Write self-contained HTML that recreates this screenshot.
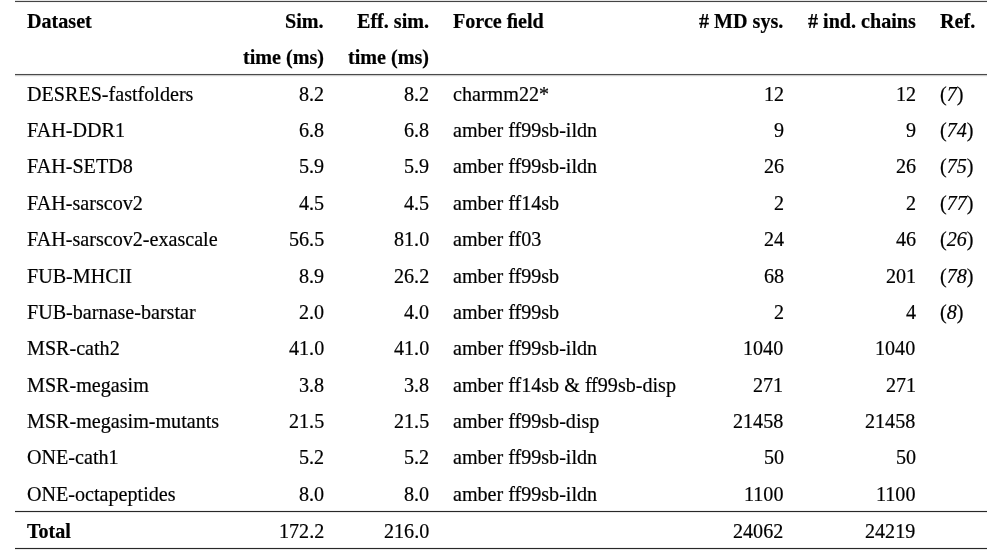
<!DOCTYPE html>
<html><head><meta charset="utf-8"><style>
html,body{margin:0;padding:0;background:#fff;width:991px;height:553px;overflow:hidden}
body{position:relative;font-family:"Liberation Serif",serif;font-size:20.12px;color:#000}
div{position:absolute;white-space:nowrap;line-height:22.14px;will-change:transform;-webkit-text-stroke:0.2px #000}
.b{font-weight:bold}
.r{position:absolute;left:15px;width:972px;height:1px}
</style></head><body>
<span class="r" style="top:0px;background:#e4e4e4"></span>
<span class="r" style="top:1px;background:#444"></span>
<span class="r" style="top:2px;background:#f4f4f4"></span>
<span class="r" style="top:73px;background:#f8f8f8"></span>
<span class="r" style="top:74px;background:#4a4a4a"></span>
<span class="r" style="top:75px;background:#cccccc"></span>
<span class="r" style="top:76px;background:#f4f4f4"></span>
<span class="r" style="top:510px;background:#f0f0f0"></span>
<span class="r" style="top:511px;background:#282828"></span>
<span class="r" style="top:512px;background:#eaeaea"></span>
<span class="r" style="top:547px;background:#f0f0f0"></span>
<span class="r" style="top:548px;background:#282828"></span>
<span class="r" style="top:549px;background:#eaeaea"></span>
<div class="b" style="left:26.6px;top:9.98px">Dataset</div>
<div class="b" style="right:667.20px;top:9.98px">Sim.</div>
<div class="b" style="right:561.65px;top:9.98px">Eff. sim.</div>
<div class="b" style="left:452.6px;top:9.98px">Force &#xFB01;eld</div>
<div class="b" style="right:207.40px;top:9.98px"># MD sys.</div>
<div class="b" style="right:75.30px;top:9.98px"># ind. chains</div>
<div class="b" style="left:940.3px;top:9.98px">Ref.</div>
<div class="b" style="right:667.20px;top:46.34px">time (ms)</div>
<div class="b" style="right:561.65px;top:46.34px">time (ms)</div>
<div style="left:26.6px;top:82.70px">DESRES-fastfolders</div>
<div style="right:667.20px;top:82.70px">8.2</div>
<div style="right:561.65px;top:82.70px">8.2</div>
<div style="left:452.6px;top:82.70px">charmm22*</div>
<div style="right:207.40px;top:82.70px">12</div>
<div style="right:75.30px;top:82.70px">12</div>
<div style="left:940.3px;top:82.70px">(<i>7</i>)</div>
<div style="left:26.6px;top:119.06px">FAH-DDR1</div>
<div style="right:667.20px;top:119.06px">6.8</div>
<div style="right:561.65px;top:119.06px">6.8</div>
<div style="left:452.6px;top:119.06px">amber <span style="letter-spacing:-0.5px">f</span>f99sb-ildn</div>
<div style="right:207.40px;top:119.06px">9</div>
<div style="right:75.30px;top:119.06px">9</div>
<div style="left:940.3px;top:119.06px">(<i>74</i>)</div>
<div style="left:26.6px;top:155.42px">FAH-SETD8</div>
<div style="right:667.20px;top:155.42px">5.9</div>
<div style="right:561.65px;top:155.42px">5.9</div>
<div style="left:452.6px;top:155.42px">amber <span style="letter-spacing:-0.5px">f</span>f99sb-ildn</div>
<div style="right:207.40px;top:155.42px">26</div>
<div style="right:75.30px;top:155.42px">26</div>
<div style="left:940.3px;top:155.42px">(<i>75</i>)</div>
<div style="left:26.6px;top:191.78px">FAH-sarscov2</div>
<div style="right:667.20px;top:191.78px">4.5</div>
<div style="right:561.65px;top:191.78px">4.5</div>
<div style="left:452.6px;top:191.78px">amber <span style="letter-spacing:-0.5px">f</span>f14sb</div>
<div style="right:207.40px;top:191.78px">2</div>
<div style="right:75.30px;top:191.78px">2</div>
<div style="left:940.3px;top:191.78px">(<i>77</i>)</div>
<div style="left:26.6px;top:228.14px">FAH-sarscov2-exascale</div>
<div style="right:667.20px;top:228.14px">56.5</div>
<div style="right:561.65px;top:228.14px">81.0</div>
<div style="left:452.6px;top:228.14px">amber <span style="letter-spacing:-0.5px">f</span>f03</div>
<div style="right:207.40px;top:228.14px">24</div>
<div style="right:75.30px;top:228.14px">46</div>
<div style="left:940.3px;top:228.14px">(<i>26</i>)</div>
<div style="left:26.6px;top:264.50px">FUB-MHCII</div>
<div style="right:667.20px;top:264.50px">8.9</div>
<div style="right:561.65px;top:264.50px">26.2</div>
<div style="left:452.6px;top:264.50px">amber <span style="letter-spacing:-0.5px">f</span>f99sb</div>
<div style="right:207.40px;top:264.50px">68</div>
<div style="right:75.30px;top:264.50px">201</div>
<div style="left:940.3px;top:264.50px">(<i>78</i>)</div>
<div style="left:26.6px;top:300.86px">FUB-barnase-barstar</div>
<div style="right:667.20px;top:300.86px">2.0</div>
<div style="right:561.65px;top:300.86px">4.0</div>
<div style="left:452.6px;top:300.86px">amber <span style="letter-spacing:-0.5px">f</span>f99sb</div>
<div style="right:207.40px;top:300.86px">2</div>
<div style="right:75.30px;top:300.86px">4</div>
<div style="left:940.3px;top:300.86px">(<i>8</i>)</div>
<div style="left:26.6px;top:337.22px">MSR-cath2</div>
<div style="right:667.20px;top:337.22px">41.0</div>
<div style="right:561.65px;top:337.22px">41.0</div>
<div style="left:452.6px;top:337.22px">amber <span style="letter-spacing:-0.5px">f</span>f99sb-ildn</div>
<div style="right:207.40px;top:337.22px">1040</div>
<div style="right:75.30px;top:337.22px">1040</div>
<div style="left:26.6px;top:373.58px">MSR-megasim</div>
<div style="right:667.20px;top:373.58px">3.8</div>
<div style="right:561.65px;top:373.58px">3.8</div>
<div style="left:452.6px;top:373.58px">amber <span style="letter-spacing:-0.5px">f</span>f14sb &amp; <span style="letter-spacing:-0.5px">f</span>f99sb-disp</div>
<div style="right:207.40px;top:373.58px">271</div>
<div style="right:75.30px;top:373.58px">271</div>
<div style="left:26.6px;top:409.94px">MSR-megasim-mutants</div>
<div style="right:667.20px;top:409.94px">21.5</div>
<div style="right:561.65px;top:409.94px">21.5</div>
<div style="left:452.6px;top:409.94px">amber <span style="letter-spacing:-0.5px">f</span>f99sb-disp</div>
<div style="right:207.40px;top:409.94px">21458</div>
<div style="right:75.30px;top:409.94px">21458</div>
<div style="left:26.6px;top:446.30px">ONE-cath1</div>
<div style="right:667.20px;top:446.30px">5.2</div>
<div style="right:561.65px;top:446.30px">5.2</div>
<div style="left:452.6px;top:446.30px">amber <span style="letter-spacing:-0.5px">f</span>f99sb-ildn</div>
<div style="right:207.40px;top:446.30px">50</div>
<div style="right:75.30px;top:446.30px">50</div>
<div style="left:26.6px;top:482.66px">ONE-octapeptides</div>
<div style="right:667.20px;top:482.66px">8.0</div>
<div style="right:561.65px;top:482.66px">8.0</div>
<div style="left:452.6px;top:482.66px">amber <span style="letter-spacing:-0.5px">f</span>f99sb-ildn</div>
<div style="right:207.40px;top:482.66px">1100</div>
<div style="right:75.30px;top:482.66px">1100</div>
<div style="left:26.6px;top:520.02px"><b>Total</b></div>
<div style="right:667.20px;top:520.02px">172.2</div>
<div style="right:561.65px;top:520.02px">216.0</div>
<div style="right:207.40px;top:520.02px">24062</div>
<div style="right:75.30px;top:520.02px">24219</div>
</body></html>
